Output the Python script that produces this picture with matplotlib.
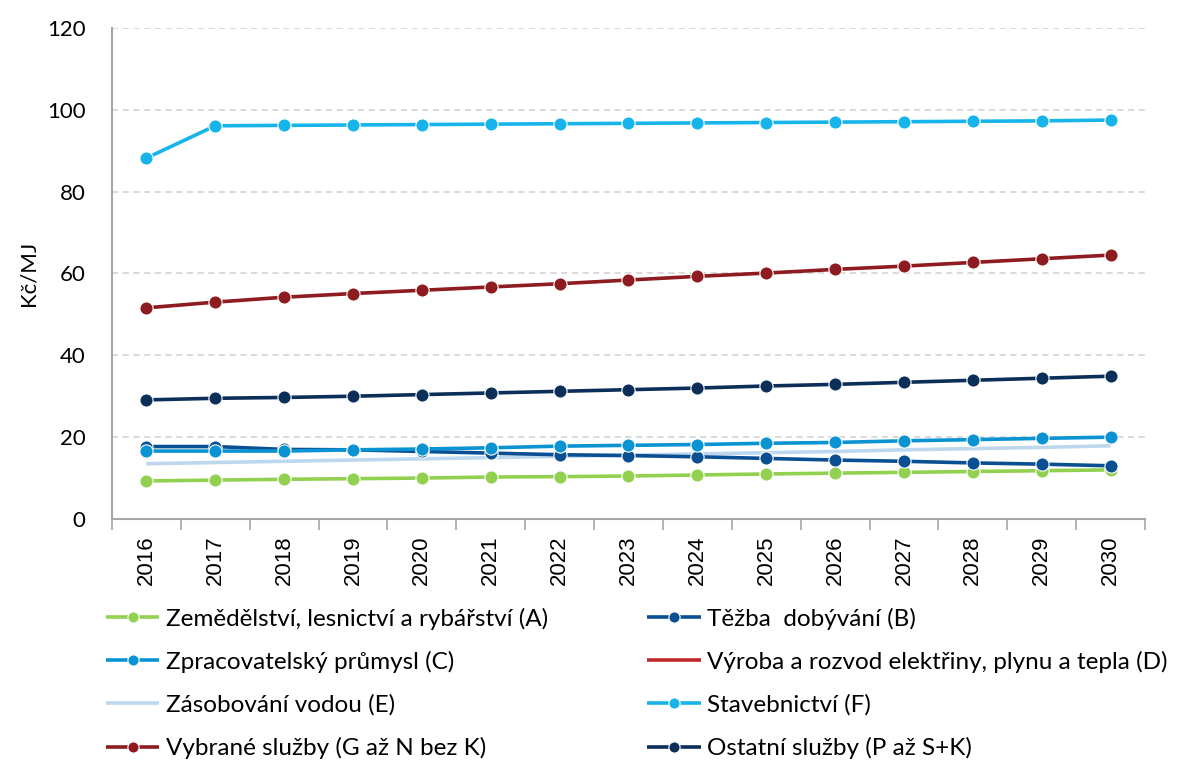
"""
Kč/MJ by sector, 2016-2030 - line chart with two-column legend.
Output: out.png
"""
import matplotlib
matplotlib.use("Agg")
import matplotlib.pyplot as plt
import numpy as np

plt.rcParams["font.family"] = ["Lato", "DejaVu Sans"]

# ── Data ──────────────────────────────────────────────────────────────────────
years = [2016, 2017, 2018, 2019, 2020, 2021, 2022, 2023,
         2024, 2025, 2026, 2027, 2028, 2029, 2030]

zemedelstvi = [9.3, 9.5, 9.7, 9.85, 10.0, 10.25, 10.35, 10.5,
               10.75, 11.0, 11.2, 11.4, 11.6, 11.8, 12.0]
tezba = [17.7, 17.7, 17.0, 16.9, 16.5, 16.1, 15.7, 15.5,
         15.2, 14.8, 14.4, 14.1, 13.7, 13.4, 13.0]
zpracovatelsky = [16.6, 16.6, 16.6, 16.9, 17.1, 17.4, 17.8, 18.0,
                  18.2, 18.5, 18.7, 19.1, 19.4, 19.7, 20.0]
vyroba_energie = [np.nan] * 15
zasobovani = [13.5, 13.8, 14.1, 14.4, 14.7, 15.0, 15.3, 15.6,
              15.9, 16.2, 16.5, 16.9, 17.2, 17.5, 17.9]
stavebnictvi = [88.2, 96.1, 96.2, 96.3, 96.4, 96.5, 96.6, 96.7,
                96.8, 96.9, 97.0, 97.1, 97.2, 97.3, 97.5]
vybrane_sluzby = [51.6, 53.0, 54.2, 55.1, 55.9, 56.7, 57.5, 58.4,
                  59.3, 60.1, 61.0, 61.8, 62.7, 63.6, 64.5]
ostatni_sluzby = [29.1, 29.5, 29.7, 30.0, 30.4, 30.8, 31.2, 31.6,
                  32.0, 32.5, 32.9, 33.4, 33.9, 34.4, 34.9]

labels = ["Zemědělství, lesnictví a rybářství (A)", "Těžba  dobývání (B)",
          "Zpracovatelský průmysl (C)", "Výroba a rozvod elektřiny, plynu a tepla (D)",
          "Zásobování vodou (E)", "Stavebnictví (F)",
          "Vybrané služby (G až N bez K)", "Ostatní služby (P až S+K)"]

# ── Styles ────────────────────────────────────────────────────────────────────
GREEN = "#92D050"
BLUE_B = "#0B4F93"
BLUE_C = "#0A93D3"
RED_D = "#C0272D"
LIGHT_E = "#BDD7EE"
CYAN_F = "#16B4EA"
DARKRED = "#8E1B1F"
NAVY = "#0B2F58"
GRID = "#D0D0D0"
SPINE = "#A6A6A6"

series = [
    (zemedelstvi, GREEN, True),
    (tezba, BLUE_B, True),
    (zpracovatelsky, BLUE_C, True),
    (vyroba_energie, RED_D, False),
    (zasobovani, LIGHT_E, False),
    (stavebnictvi, CYAN_F, True),
    (vybrane_sluzby, DARKRED, True),
    (ostatni_sluzby, NAVY, True),
]

fig = plt.figure(figsize=(11.78, 7.65), dpi=100)
ax = fig.add_axes([0.095, 0.3216, 0.877, 0.6418])

# draw order: light lines first, then marker series
order = [4, 3, 0, 1, 2, 7, 6, 5]
handles = [None] * len(series)
for i in order:
    vals, color, markers = series[i]
    kw = dict(color=color, lw=2.6, solid_capstyle="butt")
    if markers:
        kw.update(marker="o", markersize=9.5, markerfacecolor=color,
                  markeredgecolor="white", markeredgewidth=0.8)
    h, = ax.plot(years, vals, label=labels[i], **kw)
    handles[i] = h

ax.set_ylim(0, 120)
ax.set_yticks(np.arange(0, 121, 20))
ax.set_xlim(years[0] - 0.5, years[-1] + 0.5)

# ticks at category boundaries, labels at centers
ax.set_xticks(np.arange(years[0] - 0.5, years[-1] + 1, 1))
ax.set_xticklabels([])
ax.set_xticks(years, minor=True)
ax.set_xticklabels([str(y) for y in years], minor=True, rotation=90,
                   fontsize=16, family="Liberation Sans")
ax.tick_params(axis="x", which="major", length=8, color=SPINE, width=1.2, direction="out")
ax.tick_params(axis="x", which="minor", length=0, pad=12)
ax.tick_params(axis="y", length=0, labelsize=16, pad=19)

ax.yaxis.grid(True, color=GRID, linestyle=(0, (4, 3)), lw=1.1)
ax.set_axisbelow(True)
for side in ("top", "right"):
    ax.spines[side].set_visible(False)
for side in ("left", "bottom"):
    ax.spines[side].set_color(SPINE)
    ax.spines[side].set_linewidth(1.5)

ax.set_ylabel("Kč/MJ", fontsize=16, labelpad=6)

# legend: row-major order in two columns
leg_order = [0, 2, 4, 6, 1, 3, 5, 7]
fig.legend([handles[i] for i in leg_order], [labels[i] for i in leg_order],
           ncol=2, loc="upper left", bbox_to_anchor=(0.090, 0.206),
           frameon=False, fontsize=17.5, handlelength=2.2, handletextpad=0.25,
           columnspacing=4.1, labelspacing=0.88, markerscale=0.85,
           borderpad=0, borderaxespad=0)

fig.savefig("out.png", dpi=100)
